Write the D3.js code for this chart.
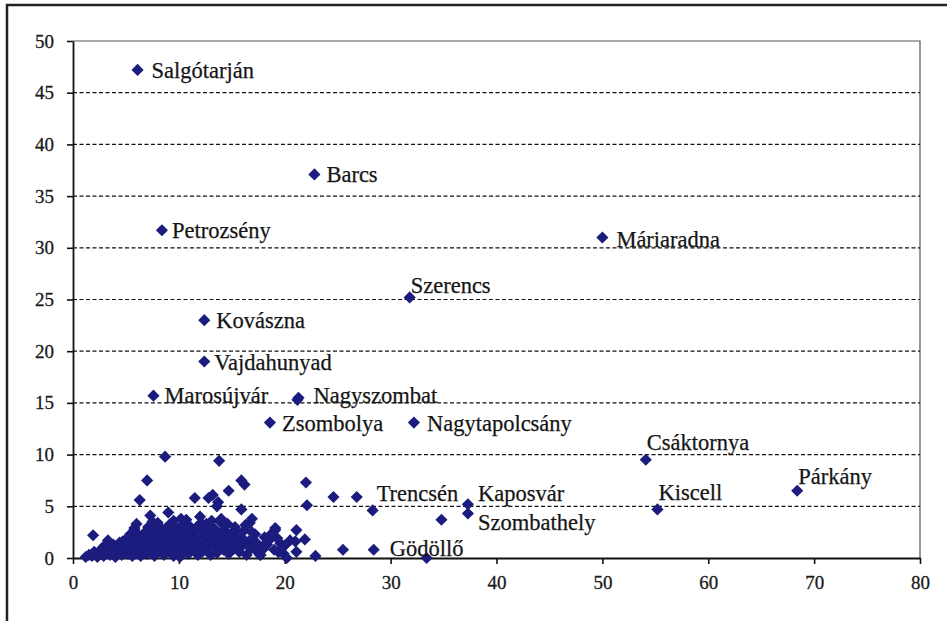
<!DOCTYPE html>
<html>
<head>
<meta charset="utf-8">
<script src="https://cdn.jsdelivr.net/npm/d3@7"></script>
<style>
  html, body { margin: 0; padding: 0; background: #ffffff; }
  svg { display: block; }
  text { font-family: "Liberation Serif", "DejaVu Serif", serif; fill: #1a1a1a; }
</style>
</head>
<body>
<svg id="chart" width="947" height="621"></svg>
<script>
// ---------- DATA ----------
const xTicks = [0, 10, 20, 30, 40, 50, 60, 70, 80];
const yTicks = [0, 5, 10, 15, 20, 25, 30, 35, 40, 45, 50];

// labelled towns: name, x, y
const labelNames = ["Salgótarján", "Barcs", "Petrozsény", "Máriaradna", "Szerencs", "Kovászna",
  "Vajdahunyad", "Marosújvár", "Nagyszombat", "Zsombolya", "Nagytapolcsány", "Csáktornya",
  "Párkány", "Kiscell", "Trencsén", "Kaposvár", "Szombathely", "Gödöllő"];
const labelX = [6.1, 22.8, 8.4, 50.0, 31.8, 12.4, 12.4, 7.6, 21.3, 18.6, 32.2, 54.1, 68.4, 55.2, 28.3, 37.3, 37.3, 28.4];
const labelY = [47.2, 37.1, 31.7, 31.0, 25.2, 23.0, 19.0, 15.7, 15.5, 13.1, 13.1, 9.5, 6.5, 4.7, 4.6, 5.2, 4.3, 0.8];

// unlabelled towns
const otherX = [21.2, 8.7, 7.0, 6.3, 7.3, 9.0, 5.8, 1.9, 3.3, 10.7, 11.5, 12.8, 13.8, 15.9, 16.2, 13.2, 13.7, 14.7,
  15.9, 16.9, 13.6, 14.0, 16.7, 22.0, 22.1, 24.6, 26.8, 21.1, 21.9, 21.0, 21.1, 22.9, 25.5, 34.8, 33.4, 19.1,
  1.2, 1.5, 1.8, 2.0, 2.3, 2.5, 2.7, 2.9, 3.1, 3.3, 3.5, 3.6, 3.8, 4.0, 4.1, 4.3, 4.4, 4.6, 4.8, 4.9, 5.0,
  5.2, 5.3, 5.5, 5.6, 5.7, 5.9, 6.0, 6.1, 6.2, 6.4, 6.5, 6.6, 6.8, 6.9, 7.0, 7.2, 7.3, 7.4, 7.5, 7.7, 7.8,
  7.9, 8.0, 8.1, 8.2, 8.4, 8.5, 8.6, 8.7, 8.9, 9.0, 9.1, 9.2, 9.4, 9.5, 9.6, 9.8, 9.9, 10.0, 10.1, 10.2,
  10.3, 10.5, 10.6, 10.7, 10.9, 11.0, 11.1, 11.3, 11.4, 11.6, 11.8, 11.9, 12.0, 12.2, 12.3, 12.5, 12.6,
  12.8, 12.9, 13.0, 13.2, 13.3, 13.5, 13.6, 13.8, 13.9, 14.0, 14.2, 14.3, 14.5, 14.7, 14.8, 15.0, 15.2,
  15.3, 15.5, 15.7, 15.9, 16.0, 16.2, 16.4, 16.6, 16.8, 17.0, 17.2, 17.5, 17.7, 17.9, 18.1, 18.3, 18.6,
  18.8, 19.0, 19.1, 19.4, 19.6, 19.9, 20.2, 20.5, 17.0, 18.3, 17.7, 19.4,
  3.0, 3.9, 4.7, 5.4, 5.8, 6.3, 6.7, 7.1, 7.6, 8.3, 8.8, 9.3, 9.7, 10.4, 10.8, 11.2, 11.7, 12.1, 12.7,
  13.1, 13.4, 14.1, 14.4, 14.9, 15.4, 15.8, 16.3, 16.9, 17.4, 18.0, 18.5, 19.3, 20.0, 8.0, 9.5, 11.0,
  12.4, 13.0, 14.6, 10.2, 6.0, 7.5, 12.0];
const otherY = [15.3, 9.8, 7.5, 5.6, 4.1, 4.4, 2.9, 2.2, 1.7, 3.7, 5.8, 5.8, 9.4, 7.5, 7.1, 6.1, 5.4, 6.5,
  4.7, 3.8, 5.0, 3.8, 3.4, 7.3, 5.1, 5.9, 5.9, 2.7, 1.8, 1.6, 0.6, 0.2, 0.8, 3.7, 0.0, 2.7,
  0.1, 0.3, 0.2, 0.6, 0.1, 0.4, 0.9, 0.2, 0.5, 1.0, 0.3, 0.7, 1.3, 0.1, 0.5, 0.9, 1.5, 0.3, 0.7, 1.1, 1.8,
  0.4, 1.4, 0.8, 0.2, 1.9, 1.1, 0.5, 2.3, 1.5, 0.2, 0.9, 1.8, 2.5, 1.2, 0.4, 2.0, 0.8, 1.5, 2.8, 0.2, 1.1,
  2.3, 0.6, 1.7, 3.0, 1.0, 2.5, 0.3, 1.4, 2.0, 0.7, 3.2, 1.2, 2.6, 0.2, 1.8, 0.9, 2.9, 1.4, 0.1, 2.2,
  0.6, 1.0, 2.7, 1.7, 0.4, 3.1, 1.3, 2.3, 0.8, 1.9, 0.3, 2.8, 1.2, 0.6, 2.1, 1.6, 3.3,
  0.9, 2.5, 0.3, 1.8, 2.9, 1.1, 0.5, 2.2, 3.5, 1.5, 0.8, 2.7, 1.9, 0.4, 1.3, 2.4, 0.9,
  3.0, 1.7, 0.6, 2.0, 1.2, 2.7, 0.3, 1.6, 0.9, 1.7, 2.3, 0.5, 0.3, 1.1, 2.0, 1.3, 2.1,
  2.4, 0.8, 2.9, 0.6, 1.4, 0.4, 0.0, 1.7, 1.7, 1.3, 0.3, 0.6,
  1.2, 1.0, 1.6, 2.3, 2.7, 1.2, 2.1, 3.0, 2.0, 2.4, 2.9, 1.7, 2.4, 3.2, 2.1, 2.7, 3.0, 3.4, 2.2,
  3.6, 2.5, 2.6, 3.1, 2.1, 2.6, 1.4, 3.2, 2.5, 1.4, 0.9, 1.7, 1.9, 1.2, 3.4, 3.6, 2.6,
  2.8, 1.4, 3.3, 3.8, 3.3, 3.5, 4.0];

// ---------- LAYOUT ----------
const W = 947, H = 621;
const svg = d3.select("#chart");
const x = d3.scaleLinear().domain([0, 80]).range([73, 920]);
const y = d3.scaleLinear().domain([0, 50]).range([558, 41]);
const markColor = "#1c1c7e";

svg.append("rect").attr("width", W).attr("height", H).attr("fill", "#ffffff");

// outer frame (left & top visible)
svg.append("path").attr("d", `M7,${H + 5}V5H${W + 5}`)
  .attr("fill", "none").attr("stroke", "#222").attr("stroke-width", 2.5);

// plot border top/right
svg.append("path")
  .attr("d", `M${x(0)},${y(50)}H${x(80)}V${y(0)}`)
  .attr("fill", "none").attr("stroke", "#555").attr("stroke-width", 1.2);

// dashed gridlines
svg.append("g").selectAll("line")
  .data(yTicks.filter(v => v > 0 && v < 50))
  .join("line")
  .attr("x1", x(0)).attr("x2", x(80))
  .attr("y1", d => y(d)).attr("y2", d => y(d))
  .attr("stroke", "#111").attr("stroke-width", 1.2)
  .attr("stroke-dasharray", "4,2.5");

// axes
const yAxis = svg.append("g").attr("transform", `translate(${x(0)},0)`)
  .call(d3.axisLeft(y).tickValues(yTicks).tickSize(6).tickSizeOuter(0).tickPadding(13));
const xAxis = svg.append("g").attr("transform", `translate(0,${y(0)})`)
  .call(d3.axisBottom(x).tickValues(xTicks).tickSize(6).tickSizeOuter(0).tickPadding(12));
[yAxis, xAxis].forEach(g => {
  g.attr("font-family", null).attr("font-size", null);
  g.select(".domain").attr("stroke", "#111").attr("stroke-width", 1.8);
  g.selectAll(".tick line").attr("stroke", "#111").attr("stroke-width", 1.6);
  g.selectAll(".tick text")
    .style("font-family", '"Liberation Serif", serif')
    .style("font-size", "19px").style("fill", "#1a1a1a")
    .style("stroke", "#1a1a1a").style("stroke-width", "0.3px");
});

// markers
const diamond = d3.symbol().type(d3.symbolSquare).size(74);
const others = otherX.map((v, i) => ({ x: v, y: otherY[i] }));
const labelled = labelNames.map((n, i) => ({ name: n, x: labelX[i], y: labelY[i] }));

svg.append("g").selectAll("path")
  .data(others.concat(labelled))
  .join("path")
  .attr("d", diamond)
  .attr("transform", d => `translate(${x(d.x)},${y(d.y)}) rotate(45)`)
  .attr("fill", markColor);

// label offsets (px) relative to marker: [dx, dy of text middle]
const offs = {
  "Salgótarján": [14, 0], "Barcs": [12, 0], "Petrozsény": [10, 0], "Máriaradna": [14, 2],
  "Szerencs": [1, -12], "Kovászna": [12, 0], "Vajdahunyad": [10, 1], "Marosújvár": [11, -1],
  "Nagyszombat": [15, -3], "Zsombolya": [12, 1], "Nagytapolcsány": [13, 1], "Csáktornya": [1, -18],
  "Párkány": [1, -15], "Kiscell": [1, -17], "Trencsén": [4, -17], "Kaposvár": [10, -11],
  "Szombathely": [10, 9], "Gödöllő": [16, -2]
};

svg.append("g").selectAll("text")
  .data(labelled)
  .join("text")
  .attr("x", d => x(d.x) + offs[d.name][0])
  .attr("y", d => y(d.y) + offs[d.name][1])
  .attr("dy", "0.35em")
  .style("font-size", "22.5px")
  .style("fill", "#151515")
  .style("stroke", "#151515").style("stroke-width", "0.25px")
  .text(d => d.name);
</script>
</body>
</html>
